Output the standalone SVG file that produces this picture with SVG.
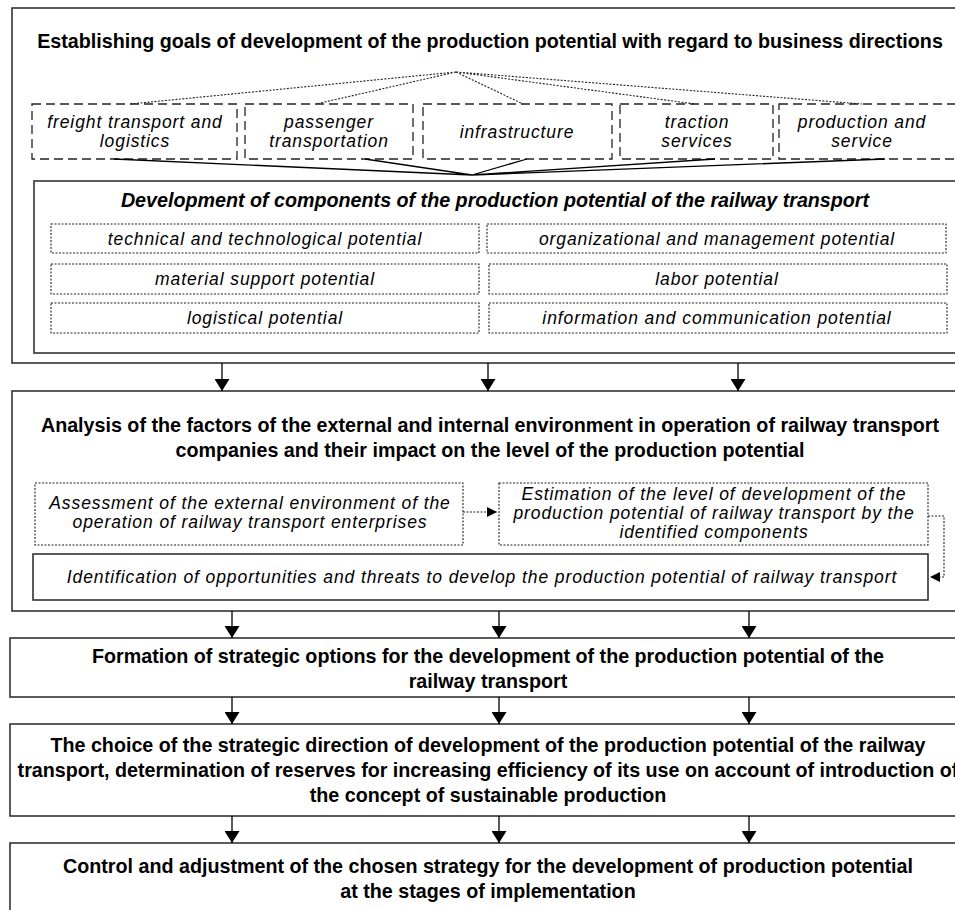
<svg xmlns="http://www.w3.org/2000/svg" width="955" height="910" viewBox="0 0 955 910">
<defs>
<marker id="ah" markerWidth="12" markerHeight="15" refX="12" refY="7.5" orient="auto" markerUnits="userSpaceOnUse">
<path d="M0,0 L12,7.5 L0,15 Z" fill="#000"/>
</marker>
<marker id="ahs" markerWidth="10" markerHeight="10" refX="10" refY="5" orient="auto" markerUnits="userSpaceOnUse">
<path d="M0,0 L10,5 L0,10 Z" fill="#000"/>
</marker>
<style>
.box{fill:#fff;stroke:#333;stroke-width:1.6}
.dash{fill:none;stroke:#222;stroke-width:1.3;stroke-dasharray:9,5}
.dot{fill:none;stroke:#222;stroke-width:1.1;stroke-dasharray:2,1.5}
.b{font-family:"Liberation Sans",Arial,sans-serif;font-weight:bold;font-size:19.7px;fill:#000;text-anchor:middle}
.bi{font-family:"Liberation Sans",Arial,sans-serif;font-weight:bold;font-style:italic;font-size:19.7px;fill:#000;text-anchor:middle}
.i{font-family:"Liberation Sans",Arial,sans-serif;font-style:italic;font-size:17.5px;letter-spacing:0.9px;fill:#000;text-anchor:middle}
.ln{stroke:#000;stroke-width:1.3;fill:none}
.ldot{stroke:#222;stroke-width:1.1;fill:none;stroke-dasharray:2,1.5}
</style>
</defs>
<rect width="955" height="910" fill="#fff"/>

<g id="goals">
<rect class="box" x="12" y="8" width="965" height="355"/>
<text class="b" x="490" y="48">Establishing goals of development of the production potential with regard to business directions</text>
</g>

<g id="freight">
<rect class="dash" x="32" y="104" width="205" height="55"/>
<text class="i" x="135" y="128">freight transport and</text>
<text class="i" x="135" y="147">logistics</text>
</g>
<g id="passenger">
<rect class="dash" x="245" y="104" width="168" height="55"/>
<text class="i" x="329" y="128">passenger</text>
<text class="i" x="329" y="147">transportation</text>
</g>
<g id="infrastructure">
<rect class="dash" x="423" y="104" width="189" height="55"/>
<text class="i" x="517" y="138">infrastructure</text>
</g>
<g id="traction">
<rect class="dash" x="620" y="104" width="153" height="55"/>
<text class="i" x="697" y="128">traction</text>
<text class="i" x="697" y="147">services</text>
</g>
<g id="production">
<rect class="dash" x="779" y="104" width="200" height="55"/>
<text class="i" x="862" y="128">production and</text>
<text class="i" x="862" y="147">service</text>
</g>

<g id="components">
<rect class="box" x="34" y="181" width="940" height="172"/>
<text class="bi" x="495" y="207">Development of components of the production potential of the railway transport</text>
</g>
<g id="technical">
<rect class="dot" x="51" y="224" width="428" height="29"/>
<text class="i" x="265" y="245">technical and technological potential</text>
</g>
<g id="organizational">
<rect class="dot" x="487" y="224" width="459" height="29"/>
<text class="i" x="717" y="245">organizational and management potential</text>
</g>
<g id="material">
<rect class="dot" x="51" y="264" width="428" height="30"/>
<text class="i" x="265" y="285">material support potential</text>
</g>
<g id="labor">
<rect class="dot" x="489" y="264" width="458" height="30"/>
<text class="i" x="717" y="285">labor potential</text>
</g>
<g id="logistical">
<rect class="dot" x="51" y="303" width="428" height="30"/>
<text class="i" x="265" y="324">logistical potential</text>
</g>
<g id="information">
<rect class="dot" x="489" y="303" width="458" height="30"/>
<text class="i" x="717" y="324">information and communication potential</text>
</g>

<g id="analysis">
<rect class="box" x="12" y="391" width="965" height="220"/>
<text class="b" x="490" y="432">Analysis of the factors of the external and internal environment in operation of railway transport</text>
<text class="b" x="490" y="457">companies and their impact on the level of the production potential</text>
</g>
<g id="assessment">
<rect class="dot" x="35" y="483" width="428" height="62"/>
<text class="i" x="250" y="509">Assessment of the external environment of the</text>
<text class="i" x="250" y="528">operation of railway transport enterprises</text>
</g>
<g id="estimation">
<rect class="dot" x="499" y="483" width="429" height="62"/>
<text class="i" x="714" y="500">Estimation of the level of development of the</text>
<text class="i" x="714" y="519">production potential of railway transport by the</text>
<text class="i" x="714" y="538">identified components</text>
</g>
<g id="identification">
<rect class="box" x="33" y="554" width="895" height="46"/>
<text class="i" x="482" y="583">Identification of opportunities and threats to develop the production potential of railway transport</text>
</g>

<g id="formation">
<rect class="box" x="10" y="638" width="967" height="59"/>
<text class="b" x="488" y="663">Formation of strategic options for the development of the production potential of the</text>
<text class="b" x="488" y="688">railway transport</text>
</g>
<g id="choice">
<rect class="box" x="10" y="724" width="967" height="92"/>
<text class="b" x="488" y="752">The choice of the strategic direction of development of the production potential of the railway</text>
<text class="b" x="488" y="777">transport, determination of reserves for increasing efficiency of its use on account of introduction of</text>
<text class="b" x="488" y="802">the concept of sustainable production</text>
</g>
<g id="control">
<rect class="box" x="10" y="843" width="967" height="100"/>
<text class="b" x="488" y="873">Control and adjustment of the chosen strategy for the development of production potential</text>
<text class="b" x="488" y="898">at the stages of implementation</text>
</g>

<g id="connectors">
<path class="ldot" d="M456,72 L130,104 M456,72 L316,104 M456,72 L523,104 M456,72 L695,104 M456,72 L862,104"/>
<path class="ln" d="M114,159 L472,175 M365,159 L472,175 M527,159 L472,175 M715,159 L472,175 M885,159 L472,175"/>
<path class="ldot" d="M463,512 L497,512" marker-end="url(#ahs)"/>
<path class="ldot" d="M928,516 L944,516 L944,577 L930,577" marker-end="url(#ahs)"/>
<g class="ln" marker-end="url(#ah)">
<path d="M222,363 L222,391"/>
<path d="M488,363 L488,391"/>
<path d="M738,363 L738,391"/>
<path d="M232,611 L232,638"/>
<path d="M499,611 L499,638"/>
<path d="M749,611 L749,638"/>
<path d="M232,697 L232,724"/>
<path d="M499,697 L499,724"/>
<path d="M749,697 L749,724"/>
<path d="M232,816 L232,843"/>
<path d="M499,816 L499,843"/>
<path d="M749,816 L749,843"/>
</g>
</g>
</svg>
